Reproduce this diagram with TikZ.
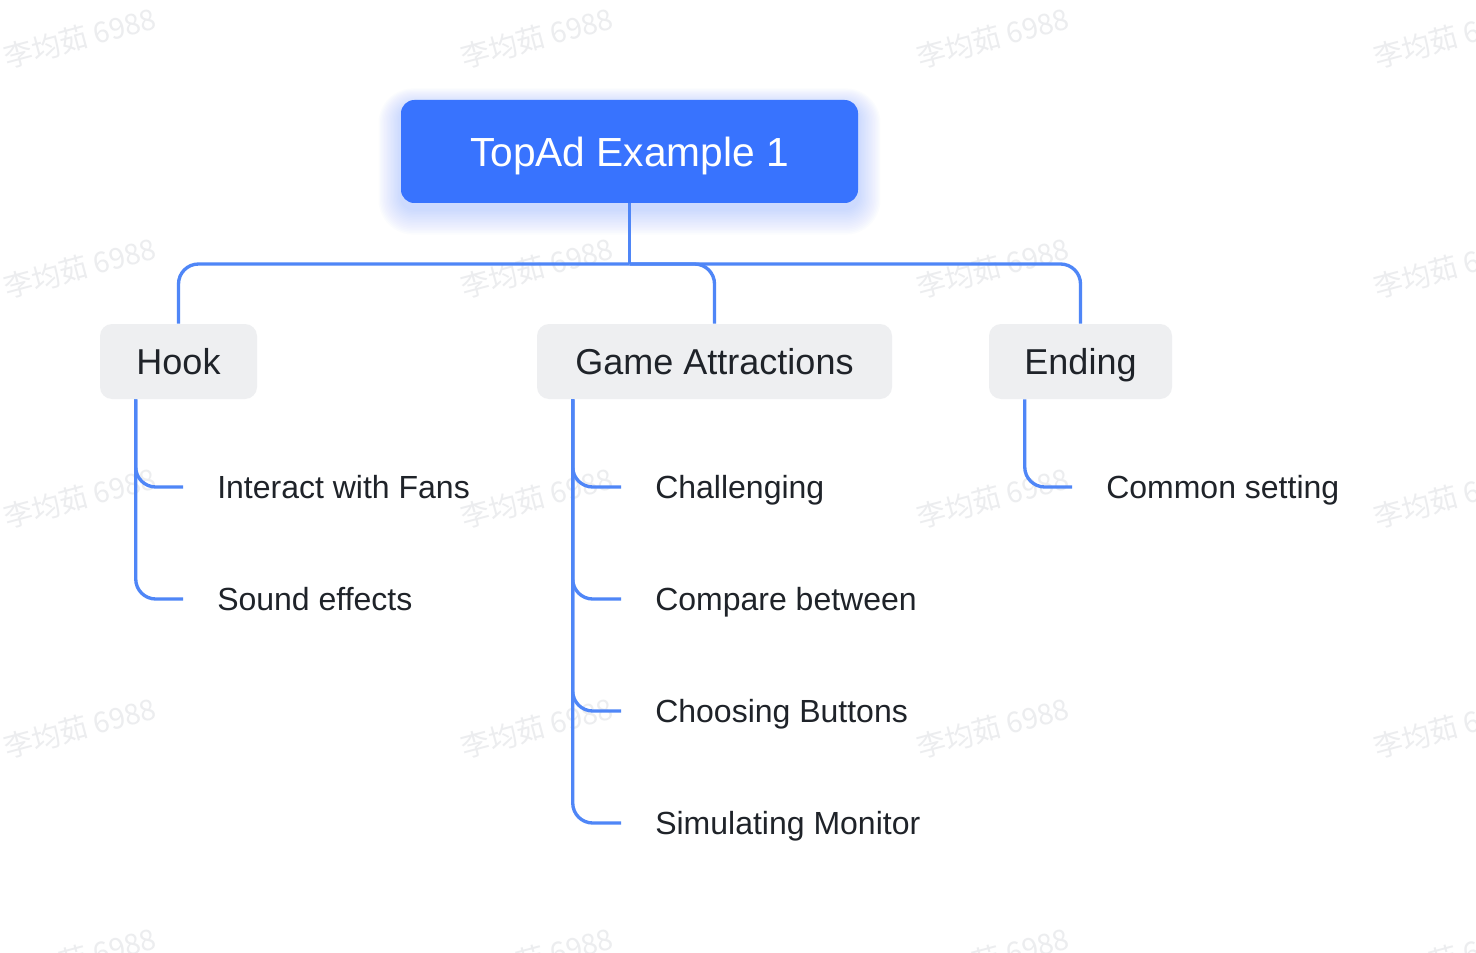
\documentclass[tikz,border=0pt]{standalone}
\usepackage{fontspec}
\setmainfont{Liberation Sans}
\newfontfamily\wmfont{Noto Sans CJK SC}
\usepackage{tikz}

\definecolor{rootblue}{RGB}{56,115,254}
\definecolor{linkblue}{RGB}{79,134,247}
\definecolor{boxgray}{RGB}{238,239,241}
\definecolor{inkdark}{RGB}{31,35,41}
\definecolor{wmgray}{RGB}{236,237,239}

\tikzset{
	rootbox/.style={fill=rootblue, text=white, rounded corners=10pt, inner sep=0pt,
		minimum width=342.75pt, minimum height=77.25pt,
		font=\fontsize{30.5pt}{30.5pt}\selectfont, text height=22pt, text depth=0pt},
	topic/.style={fill=boxgray, text=inkdark, rounded corners=9pt, inner sep=0pt,
		minimum height=56.25pt,
		font=\fontsize{27pt}{27pt}\selectfont, text height=19.4pt, text depth=0pt},
	leaf/.style={anchor=west, text=inkdark, inner xsep=25.5pt, inner ysep=0pt,
		font=\fontsize{24pt}{24pt}\selectfont, text height=17.3pt, text depth=0pt},
	link/.style={draw=linkblue, line width=2.5pt, rounded corners=15pt},
	watermark/.style={text=wmgray, rotate=15, font=\wmfont\fontsize{21.5pt}{21.5pt}\selectfont}
}

\begin{document}
\begin{tikzpicture}[x=0.75pt, y=-0.75pt]
		\fill[white] (0,0) rectangle (1476,952);
		\useasboundingbox (0,0) rectangle (1476,952);
		
		% watermark
		\foreach \x in {80,537,993,1450}
		\foreach \y in {38,268,498,728,958}
		\node[watermark] (wm-\x-\y) at (\x,\y) {李均茹 6988};
		
		% glow under the title
		\foreach \i in {1,...,16}
		\fill[rootblue, opacity=0.014, rounded corners=10pt+\i*1pt] (401-\i*1.4,106-\i*1.1) rectangle (858+\i*1.4,209+\i*1.6);
		
		\node[rootbox] (root) at (629.5,151.5) {TopAd Example 1};
		
		\node[topic, minimum width=117.75pt] (hook) at (178.5,361.5) {Hook};
		\node[topic, minimum width=266.25pt] (attr) at (714.5,361.5) {Game Attractions};
		\node[topic, minimum width=137.25pt] (ending) at (1080.5,361.5) {Ending};
		
		\node[leaf] (fans) at (183,487) {Interact with Fans};
		\node[leaf] (sound) at (183,599) {Sound effects};
		\node[leaf] (chall) at (621,487) {Challenging};
		\node[leaf] (compare) at (621,599) {Compare between};
		\node[leaf] (buttons) at (621,711) {Choosing Buttons};
		\node[leaf] (monitor) at (621,823) {Simulating Monitor};
		\node[leaf] (common) at (1072,487) {Common setting};
		
		\coordinate (bus) at (0,264);
		\draw[link] (root.south) -- (root.south |- bus);
		\foreach \t in {hook,attr,ending}
		\draw[link] (root.south |- bus) -| (\t.north);
		
		\foreach \l in {fans,sound}
		\draw[link] (hook.south west) ++(36,0) |- (\l.west);
		\foreach \l in {chall,compare,buttons,monitor}
		\draw[link] (attr.south west) ++(36,0) |- (\l.west);
		\draw[link] (ending.south west) ++(36,0) |- (common.west);
\end{tikzpicture}
\end{document}
